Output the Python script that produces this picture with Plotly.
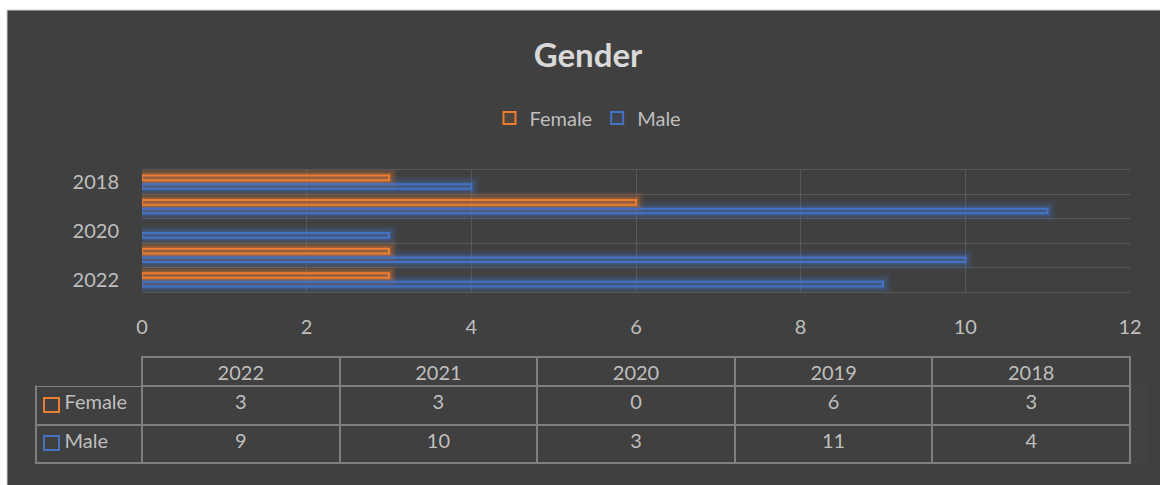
import plotly.graph_objects as go

# ---- data ----
categories = ["2022", "2021", "2020", "2019", "2018"]
female = [3, 3, 0, 6, 3]
male = [9, 10, 3, 11, 4]
series_names = ["Female", "Male"]
y_tick_labels = ["2022", "", "2020", "", "2018"]

W, H = 1160, 485
def px(x): return x / W
def py(y): return 1 - y / H

ORANGE = "#ED7D31"
BLUE = "#4472C4"
TXT = "#BFBFBF"
BG = "#404040"
GRID = "#595959"
FONT = "Lato"

fig = go.Figure()

bar_w = 0.19
off_f = 0.175 - bar_w / 2
off_m = -0.178 - bar_w / 2

def lw_list(vals, w):
    return [w if v else 0 for v in vals]

# glow layers
for vals, col, off in [(male, "68,114,196", off_m), (female, "237,125,49", off_f)]:
    for lw, a in [(16, 0.07), (12, 0.10), (8, 0.15), (5, 0.22)]:
        fig.add_trace(go.Bar(
            y=categories, x=vals, orientation="h", offset=off, width=bar_w,
            marker=dict(color="rgba(0,0,0,0)",
                        line=dict(color=f"rgba({col},{a})", width=lw_list(vals, lw))),
            showlegend=False, hoverinfo="skip"))

# main outlined bars
fig.add_trace(go.Bar(
    y=categories, x=female, orientation="h", name=series_names[0],
    offset=off_f, width=bar_w,
    marker=dict(color="rgba(237,125,49,0.10)", line=dict(color=ORANGE, width=lw_list(female, 2)))))
fig.add_trace(go.Bar(
    y=categories, x=male, orientation="h", name=series_names[1],
    offset=off_m, width=bar_w,
    marker=dict(color="rgba(68,114,196,0.10)", line=dict(color=BLUE, width=lw_list(male, 2)))))

# data table
sp = "\u00a0" * 4
header_vals = [""] + categories
cell_vals = [[sp + series_names[0], sp + series_names[1]]] + [[f, m] for f, m in zip(female, male)]
fig.add_trace(go.Table(
    domain=dict(x=[px(36), px(1130)], y=[py(464), py(357)]),
    columnwidth=[106] + [197.6] * 5,
    header=dict(values=header_vals, height=29,
                fill=dict(color=BG),
                line=dict(color=["rgba(0,0,0,0)"] + ["#7F7F7F"] * 5, width=2),
                font=dict(family=FONT, size=20, color=TXT), align="center"),
    cells=dict(values=cell_vals, height=38.5,
               fill=dict(color=BG),
               line=dict(color="#7F7F7F", width=2),
               font=dict(family=FONT, size=20, color=TXT),
               align=["left"] + ["center"] * 5),
))

shapes = [
    dict(type="rect", xref="paper", yref="paper", x0=px(7), x1=1.01, y0=-0.01, y1=py(10),
         fillcolor=BG, line=dict(color="#D0D0D0", width=1), layer="below"),
    dict(type="rect", xref="paper", yref="paper", x0=px(44), x1=px(59), y0=py(412), y1=py(398),
         fillcolor="rgba(0,0,0,0)", line=dict(color=ORANGE, width=2)),
    dict(type="rect", xref="paper", yref="paper", x0=px(44), x1=px(59), y0=py(450), y1=py(436),
         fillcolor="rgba(0,0,0,0)", line=dict(color=BLUE, width=2)),
]

fig.update_layout(
    width=W, height=H,
    margin=dict(l=0, r=0, t=0, b=0, autoexpand=False),
    paper_bgcolor="white", plot_bgcolor="rgba(0,0,0,0)",
    barmode="overlay",
    shapes=shapes,
    title=dict(text="<b>Gender</b>", x=px(588), xanchor="center", y=py(55), yanchor="middle",
               xref="paper", yref="paper", font=dict(family=FONT, size=33, color="#D9D9D9")),
    legend=dict(orientation="h", x=px(588), xanchor="center", y=py(118), yanchor="middle",
                font=dict(family=FONT, size=20, color=TXT), bgcolor="rgba(0,0,0,0)",
                traceorder="normal"),
    xaxis=dict(domain=[px(142), px(1130)], range=[0, 12], dtick=2, tick0=0,
               showgrid=True, gridcolor=GRID, gridwidth=1, zeroline=False,
               showline=True, mirror=True, linecolor=GRID, linewidth=1,
               ticks="", ticklabelstandoff=17, automargin=False,
               tickfont=dict(family=FONT, size=20, color=TXT)),
    yaxis=dict(domain=[py(292), py(170)], type="category", categoryorder="array",
               categoryarray=categories, range=[-0.5, 4.5],
               tickvals=categories, ticktext=y_tick_labels, tickson="boundaries",
               showgrid=True, gridcolor=GRID, gridwidth=1, zeroline=False,
               showline=False, ticks="", ticklabelstandoff=22, automargin=False,
               tickfont=dict(family=FONT, size=20, color=TXT)),
)

fig.write_html("out.html", config={"displayModeBar": False},
               post_script="document.body.style.margin='0';document.body.style.overflow='hidden';")
